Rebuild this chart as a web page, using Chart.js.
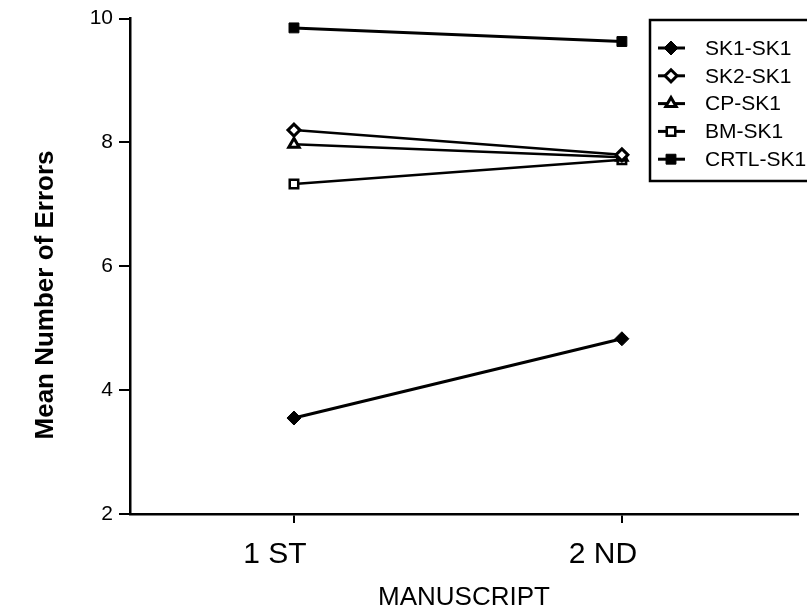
<!DOCTYPE html>
<html>
<head>
<meta charset="utf-8">
<script src="https://cdn.jsdelivr.net/npm/chart.js@4"></script>
<style>
  html, body { margin: 0; padding: 0; background: #fff; }
  #wrap { width: 807px; height: 615px; }
</style>
</head>
<body>
<div id="wrap"><canvas id="lineChart"></canvas></div>
<script>
// dữ liệu
const manuscripts = ['1 ST', '2 ND'];
const xPositions = [1, 2];
const yTicks = [2, 4, 6, 8, 10];
const seriesNames = ['SK1-SK1', 'SK2-SK1', 'CP-SK1', 'BM-SK1', 'CRTL-SK1'];
const sk1 = [3.55, 4.83];
const sk2 = [8.2, 7.8];
const cp = [7.97, 7.76];
const bm = [7.33, 7.72];
const crtl = [9.85, 9.63];
const yTitle = 'Mean Number of Errors';

const FONT = "'Liberation Sans', Arial, Helvetica, sans-serif";

// kiểu điểm cho từng dãy
const markerStyles = [
    { pointStyle: 'rectRot', radius: 7, fill: '#000', borderWidth: 1 },
    { pointStyle: 'rectRot', radius: 6, fill: '#fff', borderWidth: 3 },
    { pointStyle: 'triangle', radius: 6, fill: '#fff', borderWidth: 3 },
    { pointStyle: 'rect', radius: 6, fill: '#fff', borderWidth: 2.5 },
    { pointStyle: 'rect', radius: 7, fill: '#000', borderWidth: 1 }
];
const lineWidths = [3, 2.5, 2.5, 2.5, 3];

const toPoints = (values) => values.map((v, i) => ({ x: xPositions[i], y: v }));

const datasets = [sk1, sk2, cp, bm, crtl].map((values, i) => ({
    label: seriesNames[i],
    data: toPoints(values),
    borderColor: '#000',
    borderWidth: lineWidths[i],
    pointStyle: markerStyles[i].pointStyle,
    pointRadius: markerStyles[i].radius,
    pointBackgroundColor: markerStyles[i].fill,
    pointBorderColor: '#000',
    pointBorderWidth: markerStyles[i].borderWidth,
    tension: 0
}));

// chú thích tự vẽ (đường + điểm) và tiêu đề trục Y
const boxLegend = {
    id: 'boxLegend',
    afterDraw(chart) {
        const ctx = chart.ctx;
        const left = 650, top = 20, width = 160, height = 161;
        ctx.save();
        ctx.lineWidth = 2.5;
        ctx.strokeStyle = '#000';
        ctx.strokeRect(left, top, width, height);
        ctx.font = '21px ' + FONT;
        ctx.textBaseline = 'middle';
        ctx.fillStyle = '#000';
        seriesNames.forEach((name, i) => {
            const y = 48 + i * 27.8;
            ctx.beginPath();
            ctx.lineWidth = 3;
            ctx.moveTo(658, y);
            ctx.lineTo(685, y);
            ctx.stroke();
            const m = markerStyles[i];
            ctx.fillStyle = m.fill;
            ctx.strokeStyle = '#000';
            ctx.lineWidth = m.borderWidth;
            Chart.helpers.drawPoint(ctx, {
                pointStyle: m.pointStyle,
                radius: m.radius,
                borderWidth: m.borderWidth,
                rotation: 0
            }, 671, y);
            ctx.fillStyle = '#000';
            ctx.fillText(name, 705, y + 1);
        });

        // tiêu đề trục Y
        ctx.translate(46, 295);
        ctx.rotate(-Math.PI / 2);
        ctx.font = 'bold 26px ' + FONT;
        ctx.textAlign = 'center';
        ctx.fillText(yTitle, 0, 0);
        ctx.restore();
    }
};

const ctx = document.getElementById('lineChart').getContext('2d');

const lineChart = new Chart(ctx, {
    type: 'line',
    data: { datasets: datasets },
    options: {
        responsive: true,
        maintainAspectRatio: false,
        animation: false,
        layout: { padding: { top: 18, right: 0, left: 0, bottom: 0 } },
        plugins: {
            legend: { display: false },
            tooltip: { enabled: false }
        },
        scales: {
            x: {
                type: 'linear',
                min: 0.5,
                max: 2.537,
                afterBuildTicks: (scale) => {
                    scale.ticks = xPositions.map(v => ({ value: v }));
                },
                afterFit: (scale) => {
                    scale.height = 101;
                },
                border: { color: '#000', width: 2.5 },
                grid: {
                    drawOnChartArea: false,
                    drawTicks: true,
                    tickLength: 9,
                    color: '#000',
                    lineWidth: 2
                },
                ticks: {
                    color: '#000',
                    font: { family: FONT, size: 30 },
                    padding: 14,
                    labelOffset: -19,
                    maxRotation: 0,
                    callback: (value) => {
                        const idx = xPositions.indexOf(value);
                        return idx >= 0 ? manuscripts[idx] : '';
                    }
                },
                title: {
                    display: true,
                    text: 'MANUSCRIPT',
                    color: '#000',
                    font: { family: FONT, size: 26 },
                    padding: { top: 0, bottom: 2 }
                }
            },
            y: {
                min: 2,
                max: 10,
                afterBuildTicks: (scale) => {
                    scale.ticks = yTicks.map(v => ({ value: v }));
                },
                afterFit: (scale) => { scale.width = 130; },
                border: { color: '#000', width: 2.5 },
                grid: {
                    drawOnChartArea: false,
                    drawTicks: true,
                    tickLength: 11,
                    color: '#000',
                    lineWidth: 2
                },
                ticks: {
                    color: '#000',
                    font: { family: FONT, size: 21 },
                    padding: 6
                }
            }
        }
    },
    plugins: [boxLegend]
});
</script>
</body>
</html>
